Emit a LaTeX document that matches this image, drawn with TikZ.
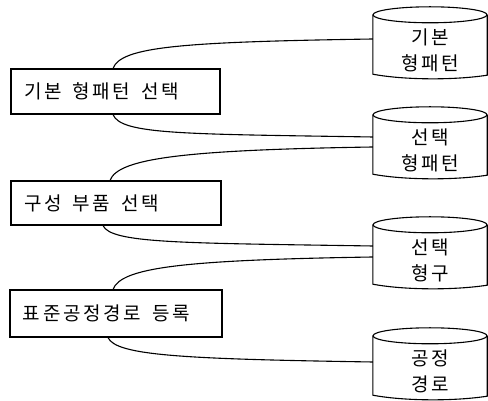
\documentclass[tikz,border=0pt]{standalone}
\usepackage{fontspec}
\newfontfamily\kr[LetterSpace=14]{Noto Sans CJK KR}
\newcommand\wsp{\hspace{11pt}}
\begin{document}
\begin{tikzpicture}[x=1pt,y=1pt,
  procbox/.style={draw, line width=1.1pt, inner xsep=13pt, inner ysep=0pt, align=left,
    font=\kr\fontsize{19}{22}\selectfont},
  cylbody/.style={draw=none, minimum width=114pt, minimum height=72pt, inner sep=0pt},
  cyltext/.style={align=center, inner sep=0pt, font=\kr\fontsize{19}{26}\selectfont},
  link/.style={line width=1.1pt}]
\useasboundingbox (0,0) rectangle (488,401);
% process boxes
\node[procbox, text width=183pt, minimum height=45pt] (b1) at (115.5,309.5) {기본\wsp 형패턴\wsp 선택};
\node[procbox, text width=184pt, minimum height=44pt] (b2) at (116,198) {구성\wsp 부품\wsp 선택};
\node[procbox, text width=186pt, minimum height=47pt] (b3) at (116,87.5) {표준공정경로\wsp 등록};
% cylinders
\node[cylbody] (c1) at (430,358) {};
\node[cylbody] (c2) at (430,258) {};
\node[cylbody] (c3) at (430,148) {};
\node[cylbody] (c4) at (430,37) {};
\foreach \c in {c1,c2,c3,c4}{
  \draw[line width=1.1pt] ([yshift=-8pt]\c.north) ellipse [x radius=57pt, y radius=8pt];
  \draw[line width=1.1pt] ([yshift=-8pt]\c.north west) -- ([yshift=5pt]\c.south west)
    .. controls ([xshift=-25pt,yshift=-1pt]\c.south) and ([xshift=25pt,yshift=-1pt]\c.south) ..
    ([yshift=4pt]\c.south east) -- ([yshift=-8pt]\c.north east);
}
\node[cyltext] (t1) at ([yshift=-7pt]c1.center) {기본\\형패턴};
\node[cyltext] (t2) at ([yshift=-7pt]c2.center) {선택\\형패턴};
\node[cyltext] (t3) at ([yshift=-7pt]c3.center) {선택\\형구};
\node[cyltext] (t4) at ([yshift=-7pt]c4.center) {공정\\경로};
% connectors
\draw[link] ([xshift=-2.5pt]b1.north) .. controls +(8,22) and +(-190,-3) .. ([yshift=4pt]c1.west);
\draw[link] ([xshift=-2.5pt]b1.south) .. controls +(8,-20) and +(-190,3) .. ([yshift=6pt]c2.west);
\draw[link] ([xshift=-6pt]b2.north) .. controls +(8,22) and +(-190,-3) .. ([yshift=-4pt]c2.west);
\draw[link] ([xshift=-13pt]b2.south) .. controls +(8,-18) and +(-190,3) .. ([yshift=7pt]c3.west);
\draw[link] ([xshift=-3pt]b3.north) .. controls +(8,22) and +(-190,-3) .. ([yshift=-4pt]c3.west);
\draw[link] ([xshift=-8pt]b3.south) .. controls +(8,-18) and +(-190,3) .. ([yshift=2pt]c4.west);
\end{tikzpicture}
\end{document}
